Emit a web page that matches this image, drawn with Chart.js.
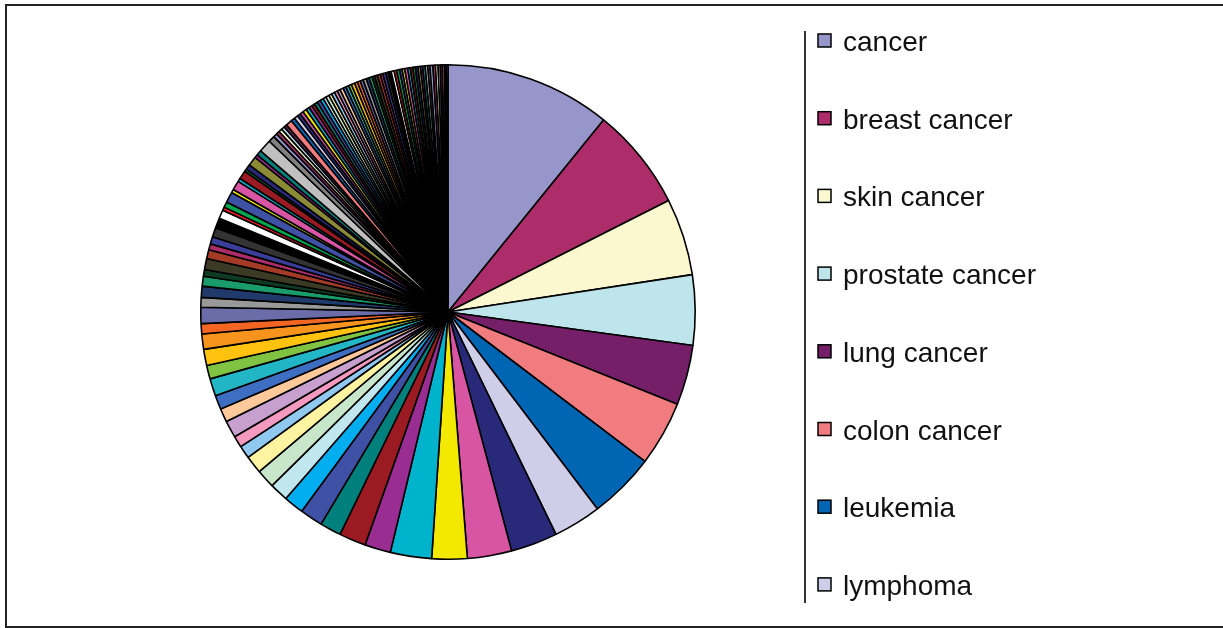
<!DOCTYPE html>
<html>
<head>
<meta charset="utf-8">
<script src="https://cdn.jsdelivr.net/npm/chart.js"></script>
<style>
  body { margin: 0; background: #fff; }
  .frame { position: absolute; left: 5px; top: 4px; width: 1230px; height: 620px; border: 2px solid #222; }
  .wrap { position: absolute; left: 0; top: 0; width: 1223px; height: 628px; }
</style>
</head>
<body>
<div class="frame"></div>
<div class="wrap"><canvas id="myChart" width="1223" height="628"></canvas></div>
<script>
// the eight named terms shown in the legend
var categories = ['cancer', 'breast cancer', 'skin cancer', 'prostate cancer', 'lung cancer', 'colon cancer', 'leukemia', 'lymphoma'];
var categoryValues = [390, 242, 181, 165, 141, 153, 156, 113];

// all the other terms (not in the legend) in order
var otherValues = [
  110, 104, 83, 97, 61, 63, 50, 54, 47, 44, 44, 42, 30, 27, 40, 32, 33, 41, 32, 38,
  36, 24, 38, 23, 26, 23, 16, 26, 21, 14, 17, 22, 24, 20, 8, 13, 25, 8, 22, 8,
  20, 6, 12, 22, 8, 12, 30, 15,
  9, 8, 8, 8, 7, 15, 9, 9, 8, 8, 9, 8, 8, 7, 8, 8, 8, 7, 8, 7,
  8, 7, 7, 8, 7, 7, 7, 8, 7, 7, 7, 8, 7, 7, 6, 7, 7, 6, 7, 6,
  7, 7, 6, 7, 6, 6, 7, 6, 6, 6, 6, 6, 5, 6, 6, 5,
  7, 6, 6, 5, 5, 5, 4, 4
];

// excel style fill colours, repeated round the pie
var palette = [
  '#9696ca', '#ad2d6b', '#fbf7cf', '#bfe5ec', '#751f68', '#f07c80', '#0066b3', '#cfcde8',
  '#29297a', '#d855a3', '#f2e800', '#00b3cd', '#9a2d92', '#9c1b23', '#00807c', '#3f51a5',
  '#00aeef', '#c0e6ee', '#c8e6c9', '#fdf3a0', '#90c8ef', '#f49ac1', '#c7a0d0', '#fdc99b',
  '#3e6ec2', '#22b5c5', '#80c242', '#ffc20e', '#f7941d', '#f26522', '#6b6da8', '#999999',
  '#1f3a6b', '#1a9b6b', '#0f3b24', '#3b3a24', '#a33b26', '#ad2d6b', '#393f98', '#333333',
  '#000000', '#ffffff', '#ed1c24', '#00a650', '#3f51a5', '#f2e800', '#d855a3', '#00b3cd',
  '#9c1b23', '#008040', '#29297a', '#8b8b36', '#9a2d92', '#00807c', '#c0c0c0', '#808080'
];

var values = categoryValues.concat(otherValues);
var labels = categories.concat(otherValues.map(function () { return ''; }));
var colors = values.map(function (v, i) { return palette[i % palette.length]; });

var sideLegend = {
  id: 'sideLegend',
  afterDraw: function (chart) {
    var ctx = chart.ctx;
    var bg = chart.data.datasets[0].backgroundColor;
    ctx.save();
    ctx.strokeStyle = '#333';
    ctx.lineWidth = 2;
    ctx.beginPath();
    ctx.moveTo(805, 31);
    ctx.lineTo(805, 603);
    ctx.stroke();
    ctx.font = '28px "Liberation Sans", Arial, sans-serif';
    ctx.textBaseline = 'alphabetic';
    categories.forEach(function (name, i) {
      var y = 41 + i * 77.7;
      ctx.fillStyle = bg[i];
      ctx.fillRect(818, y - 7, 13, 13);
      ctx.strokeStyle = '#000';
      ctx.lineWidth = 1.5;
      ctx.strokeRect(818, y - 7, 13, 13);
      ctx.fillStyle = '#111';
      ctx.fillText(name, 843, y + 10);
    });
    ctx.restore();
  }
};

var config = {
  type: 'pie',
  data: {
    labels: labels,
    datasets: [{
      data: values,
      backgroundColor: colors,
      borderColor: '#000',
      borderWidth: 1.6
    }]
  },
  options: {
    responsive: false,
    animation: false,
    layout: { padding: { left: 200, right: 527, top: 64, bottom: 68 } },
    plugins: {
      legend: { display: false },
      tooltip: { enabled: false }
    }
  },
  plugins: [sideLegend]
};
var myChart = new Chart(document.getElementById('myChart'), config);
</script>
</body>
</html>
